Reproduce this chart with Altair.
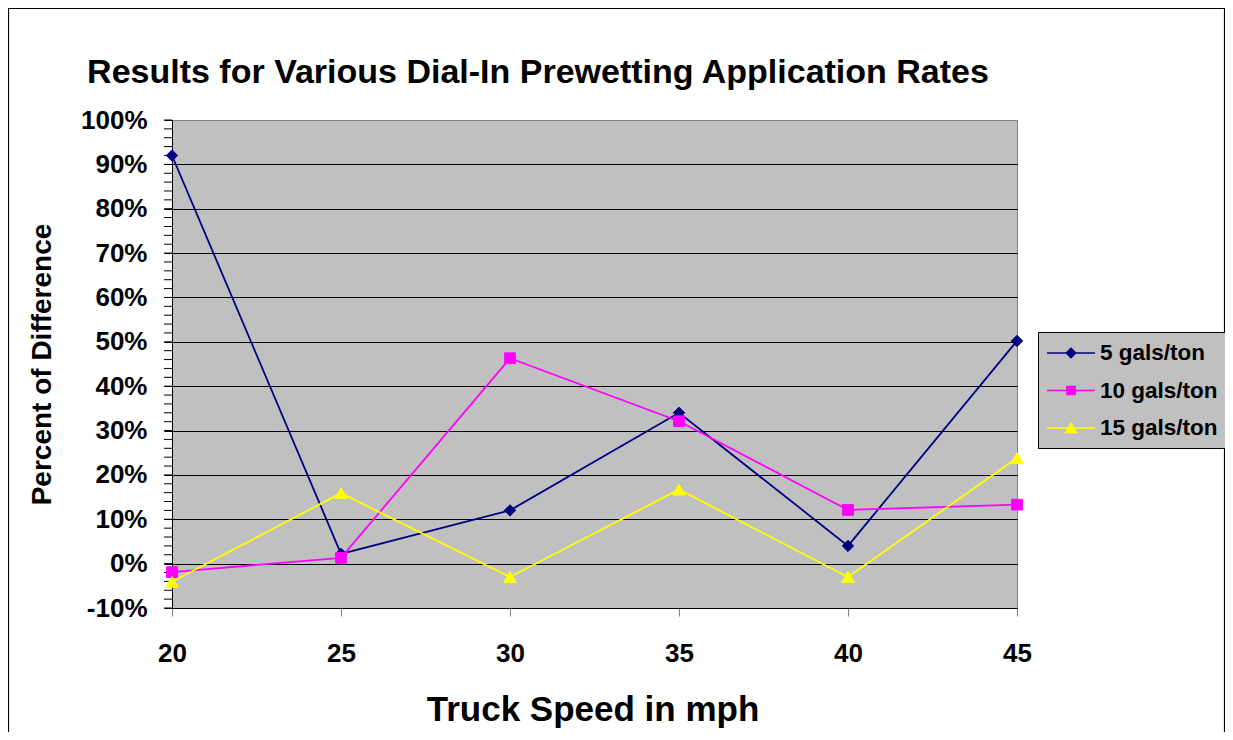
import altair as alt
import pandas as pd

speeds = [20, 25, 30, 35, 40, 45]
series_names = ["5 gals/ton", "10 gals/ton", "15 gals/ton"]
gal5 = [0.920, 0.022, 0.120, 0.340, 0.040, 0.502]
gal10 = [-0.019, 0.013, 0.463, 0.321, 0.121, 0.133]
gal15 = [-0.041, 0.159, -0.030, 0.167, -0.030, 0.238]
colors = ["#000080", "#FF00FF", "#FFFF00"]
plot_shapes = ["diamond", "square", "triangle-up"]
plot_sizes = [130, 115, 160]
y_ticks = [-0.1, 0.0, 0.1, 0.2, 0.3, 0.4, 0.5, 0.6, 0.7, 0.8, 0.9, 1.0]
minor_ticks = [v / 100 for v in range(-10, 101, 2)]
legend_paths = [
    "M-2,0L2,0M0,-0.4L0.4,0L0,0.4L-0.4,0Z",
    "M-2,0L2,0M-0.34,-0.34L0.34,-0.34L0.34,0.34L-0.34,0.34Z",
    "M-2,0L2,0M0,-0.4L0.45,0.38L-0.45,0.38Z",
]

title_text = "Results for Various Dial-In Prewetting Application Rates"
FONT = "Liberation Sans"
W, H = 845, 488

rows = []
for name, vals in zip(series_names, [gal5, gal10, gal15]):
    for s, v in zip(speeds, vals):
        rows.append({"speed": s, "pct": v, "series": name})
df = pd.DataFrame(rows)

xscale = alt.Scale(domain=[20, 45], nice=False, zero=False)
yscale = alt.Scale(domain=[-0.1, 1.0], nice=False, zero=False)

xaxis = alt.Axis(
    values=speeds, format="d", grid=False, labelFlush=False,
    tickColor="#808080", tickSize=8, domainColor="black",
    labelFont=FONT, labelFontSize=26, labelFontWeight="bold", labelColor="black",
    labelPadding=24,
    title="Truck Speed in mph", titleFont=FONT, titleFontSize=35,
    titleFontWeight="bold", titleColor="black",
    titleX=W / 2 - 2, titleY=112, titleBaseline="alphabetic", titleAlign="center",
)
yaxis = alt.Axis(
    values=y_ticks, grid=True, labelFlush=False,
    labelExpr="round(datum.value * 100) + '%'",
    gridColor={"condition": {"test": "datum.value >= 0.999", "value": "#808080"}, "value": "black"},
    gridOpacity=1, gridWidth=1,
    tickColor="black", tickSize=8, domainColor="black",
    labelFont=FONT, labelFontSize=26, labelFontWeight="bold", labelColor="black",
    labelPadding=17,
    title="Percent of Difference", titleFont=FONT, titleFontSize=28,
    titleFontWeight="bold", titleColor="black",
    titleX=-122, titleY=H / 2, titleAngle=270, titleBaseline="alphabetic",
    titleAlign="center",
)

base = alt.Chart(df)
enc = dict(
    x=alt.X("speed:Q", scale=xscale, axis=xaxis),
    y=alt.Y("pct:Q", scale=yscale, axis=yaxis),
)

series_layers = []
for name, col, shp, sz in zip(series_names, colors, plot_shapes, plot_sizes):
    sub = base.transform_filter(alt.datum.series == name)
    series_layers.append(sub.mark_line(strokeWidth=1.8, color=col).encode(**enc))
for name, col, shp, sz in zip(series_names, colors, plot_shapes, plot_sizes):
    sub = base.transform_filter(alt.datum.series == name)
    series_layers.append(
        sub.mark_point(shape=shp, filled=True, size=sz, opacity=1,
                       color=col, stroke=col, strokeWidth=1).encode(**enc)
    )

legend = alt.Legend(
    title=None, orient="none", legendX=866, legendY=212,
    fillColor="#C0C0C0", strokeColor="black", padding=8,
    symbolSize=576, symbolStrokeWidth=1.5, symbolOpacity=1,
    symbolOffset=12, labelOffset=16,
    labelFont=FONT, labelFontSize=22.5, labelFontWeight="bold", labelColor="black",
    rowPadding=12.5, labelLimit=220,
)
legend_layer = base.transform_filter("datum.speed < 0").mark_point(
    filled=True, opacity=1, strokeWidth=1.5
).encode(
    fill=alt.Fill("series:N", scale=alt.Scale(domain=series_names, range=colors), legend=legend),
    stroke=alt.Stroke("series:N", scale=alt.Scale(domain=series_names, range=colors), legend=legend),
    shape=alt.Shape("series:N", scale=alt.Scale(domain=series_names, range=legend_paths), legend=legend),
    **enc,
)

minor = alt.Chart(pd.DataFrame({"pct": minor_ticks})).mark_rule(
    color="black", strokeWidth=1
).encode(
    y=alt.Y("pct:Q", scale=yscale, axis=yaxis),
    x=alt.value(-8),
    x2=alt.value(0),
)

one = pd.DataFrame({"t": [title_text]})
title_mark = alt.Chart(one).mark_text(
    font=FONT, fontSize=34, fontWeight="bold", color="black",
    align="center", baseline="alphabetic",
).encode(text="t:N", x=alt.value(366), y=alt.value(-37))

border = alt.Chart(pd.DataFrame({"a": [0]})).mark_rect(
    fillOpacity=0, stroke="black", strokeWidth=1.2
).encode(
    x=alt.value(-163.5), x2=alt.value(W + 207.5),
    y=alt.value(-111.5), y2=alt.value(H + 150),
)

chart = alt.layer(
    minor, *series_layers, legend_layer, title_mark, border
).properties(
    width=W, height=H,
    autosize=alt.AutoSizeParams(type="none"),
    padding={"left": 164, "top": 112, "right": 208, "bottom": 124},
    background="white",
).configure_view(
    fill="#C0C0C0", stroke="#808080", strokeWidth=1
)

chart.save("out.html", embed_options={"renderer": "svg", "actions": False})
